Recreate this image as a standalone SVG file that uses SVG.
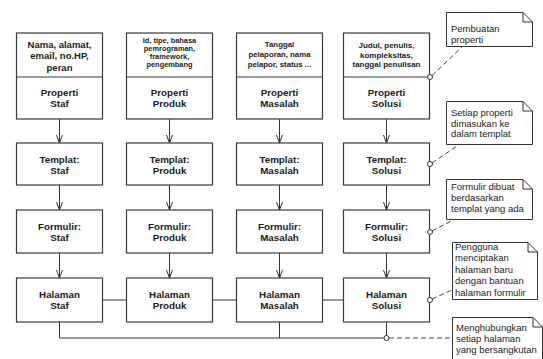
<svg xmlns="http://www.w3.org/2000/svg" width="543" height="359" viewBox="0 0 543 359">
  <defs>
    <marker id="open" viewBox="0 0 9 7" refX="8.5" refY="3.5" markerWidth="9" markerHeight="7" markerUnits="userSpaceOnUse" orient="auto">
      <path d="M0,0.3 L8.5,3.5 L0,6.7" fill="none" stroke="#333" stroke-width="1"/>
    </marker>
  </defs>
  <style>
    .box { fill: #fff; stroke: #3a3a3a; stroke-width: 1.2; }
    .lbl { font-family: "Liberation Sans", Arial, sans-serif; font-weight: bold; font-size: 9.8px; fill: #1a1a1a; text-anchor: middle; }
    .attr { font-family: "Liberation Sans", Arial, sans-serif; font-weight: bold; fill: #1a1a1a; text-anchor: middle; }
    .flow { stroke: #333; stroke-width: 1; fill: none; marker-end: url(#open); }
    .link { stroke: #333; stroke-width: 1; fill: none; }
    .note { fill: #fff; stroke: #333; stroke-width: 1; }
    .fold { fill: none; stroke: #333; stroke-width: 1; }
    .ntxt { font-family: "Liberation Sans", Arial, sans-serif; font-size: 9.5px; fill: #222; }
    .anchor { stroke: #444; stroke-width: 1; fill: none; stroke-dasharray: 5 3; }
    .dot { fill: #fff; stroke: #333; stroke-width: 1; }
  </style>

  <rect width="543" height="359" fill="#fff"/>

  <!-- connectors -->
  <g id="connectors">
    <!-- property -> template -->
    <line class="flow" x1="59.5" y1="119" x2="59.5" y2="143"/>
    <line class="flow" x1="169.5" y1="119" x2="169.5" y2="143"/>
    <line class="flow" x1="279.5" y1="119" x2="279.5" y2="143"/>
    <line class="flow" x1="386.5" y1="119" x2="386.5" y2="143"/>
    <!-- template -> form -->
    <line class="flow" x1="59.5" y1="185" x2="59.5" y2="210"/>
    <line class="flow" x1="169.5" y1="185" x2="169.5" y2="210"/>
    <line class="flow" x1="279.5" y1="185" x2="279.5" y2="210"/>
    <line class="flow" x1="386.5" y1="185" x2="386.5" y2="210"/>
    <!-- form -> page -->
    <line class="flow" x1="59.5" y1="253" x2="59.5" y2="278"/>
    <line class="flow" x1="169.5" y1="253" x2="169.5" y2="278"/>
    <line class="flow" x1="279.5" y1="253" x2="279.5" y2="278"/>
    <line class="flow" x1="386.5" y1="253" x2="386.5" y2="278"/>
    <!-- page links -->
    <line class="link" x1="102.5" y1="300" x2="126.5" y2="300"/>
    <line class="link" x1="212.5" y1="300" x2="236.5" y2="300"/>
    <line class="link" x1="322.5" y1="300" x2="343.5" y2="300"/>
    <polyline class="link" points="59.5,322 59.5,338 386.5,338 386.5,322"/>
    <line class="link" x1="279.5" y1="322" x2="279.5" y2="338"/>
    <!-- note anchors -->
    <line class="anchor" x1="432" y1="75.5" x2="463" y2="46"/>
    <line class="anchor" x1="432" y1="163" x2="460" y2="144"/>
    <line class="anchor" x1="432" y1="231" x2="455" y2="219"/>
    <line class="anchor" x1="432" y1="299" x2="452" y2="290"/>
    <line class="anchor" x1="389" y1="338" x2="452" y2="338"/>
  </g>

  <!-- column: Staf -->
  <g id="properti-staf">
    <rect class="box" x="16.5" y="33" width="86" height="86"/>
    <line class="box" x1="16.5" y1="77" x2="102.5" y2="77"/>
    <text class="attr" font-size="9.5" x="59.5" y="47.5">Nama, alamat,</text>
    <text class="attr" font-size="9.5" x="59.5" y="59">email, no.HP,</text>
    <text class="attr" font-size="9.5" x="59.5" y="70.5">peran</text>
    <text class="lbl" x="59.5" y="95.5">Properti</text>
    <text class="lbl" x="59.5" y="107">Staf</text>
  </g>
  <g id="templat-staf">
    <rect class="box" x="16.5" y="143" width="86" height="42"/>
    <text class="lbl" x="59.5" y="162.5">Templat:</text>
    <text class="lbl" x="59.5" y="173.5">Staf</text>
  </g>
  <g id="formulir-staf">
    <rect class="box" x="16.5" y="210" width="86" height="43"/>
    <text class="lbl" x="59.5" y="229.5">Formulir:</text>
    <text class="lbl" x="59.5" y="240.5">Staf</text>
  </g>
  <g id="halaman-staf">
    <rect class="box" x="16.5" y="278" width="86" height="44"/>
    <text class="lbl" x="59.5" y="297.5">Halaman</text>
    <text class="lbl" x="59.5" y="308.5">Staf</text>
  </g>

  <!-- column: Produk -->
  <g id="properti-produk">
    <rect class="box" x="126.5" y="33" width="86" height="86"/>
    <line class="box" x1="126.5" y1="77" x2="212.5" y2="77"/>
    <text class="attr" font-size="7.4" x="169.5" y="42.5">Id, tipe, bahasa</text>
    <text class="attr" font-size="7.4" x="169.5" y="50.6">pemrograman,</text>
    <text class="attr" font-size="7.4" x="169.5" y="58.7">framework,</text>
    <text class="attr" font-size="7.4" x="169.5" y="66.8">pengembang</text>
    <text class="lbl" x="169.5" y="95.5">Properti</text>
    <text class="lbl" x="169.5" y="107">Produk</text>
  </g>
  <g id="templat-produk">
    <rect class="box" x="126.5" y="143" width="86" height="42"/>
    <text class="lbl" x="169.5" y="162.5">Templat:</text>
    <text class="lbl" x="169.5" y="173.5">Produk</text>
  </g>
  <g id="formulir-produk">
    <rect class="box" x="126.5" y="210" width="86" height="43"/>
    <text class="lbl" x="169.5" y="229.5">Formulir:</text>
    <text class="lbl" x="169.5" y="240.5">Produk</text>
  </g>
  <g id="halaman-produk">
    <rect class="box" x="126.5" y="278" width="86" height="44"/>
    <text class="lbl" x="169.5" y="297.5">Halaman</text>
    <text class="lbl" x="169.5" y="308.5">Produk</text>
  </g>

  <!-- column: Masalah -->
  <g id="properti-masalah">
    <rect class="box" x="236.5" y="33" width="86" height="86"/>
    <line class="box" x1="236.5" y1="77" x2="322.5" y2="77"/>
    <text class="attr" font-size="7.8" x="279.5" y="47">Tanggal</text>
    <text class="attr" font-size="7.8" x="279.5" y="57.3">pelaporan, nama</text>
    <text class="attr" font-size="7.8" x="279.5" y="67">pelapor, status ...</text>
    <text class="lbl" x="279.5" y="95.5">Properti</text>
    <text class="lbl" x="279.5" y="107">Masalah</text>
  </g>
  <g id="templat-masalah">
    <rect class="box" x="236.5" y="143" width="86" height="42"/>
    <text class="lbl" x="279.5" y="162.5">Templat:</text>
    <text class="lbl" x="279.5" y="173.5">Masalah</text>
  </g>
  <g id="formulir-masalah">
    <rect class="box" x="236.5" y="210" width="86" height="43"/>
    <text class="lbl" x="279.5" y="229.5">Formulir:</text>
    <text class="lbl" x="279.5" y="240.5">Masalah</text>
  </g>
  <g id="halaman-masalah">
    <rect class="box" x="236.5" y="278" width="86" height="44"/>
    <text class="lbl" x="279.5" y="297.5">Halaman</text>
    <text class="lbl" x="279.5" y="308.5">Masalah</text>
  </g>

  <!-- column: Solusi -->
  <g id="properti-solusi">
    <rect class="box" x="343.5" y="33" width="86" height="86"/>
    <line class="box" x1="343.5" y1="77" x2="429.5" y2="77"/>
    <text class="attr" font-size="8" x="386.5" y="48">Judul, penulis,</text>
    <text class="attr" font-size="8" x="386.5" y="57.7">kompleksitas,</text>
    <text class="attr" font-size="8" x="386.5" y="67.2">tanggal penulisan</text>
    <text class="lbl" x="386.5" y="95.5">Properti</text>
    <text class="lbl" x="386.5" y="107">Solusi</text>
  </g>
  <g id="templat-solusi">
    <rect class="box" x="343.5" y="143" width="86" height="42"/>
    <text class="lbl" x="386.5" y="162.5">Templat:</text>
    <text class="lbl" x="386.5" y="173.5">Solusi</text>
  </g>
  <g id="formulir-solusi">
    <rect class="box" x="343.5" y="210" width="86" height="43"/>
    <text class="lbl" x="386.5" y="229.5">Formulir:</text>
    <text class="lbl" x="386.5" y="240.5">Solusi</text>
  </g>
  <g id="halaman-solusi">
    <rect class="box" x="343.5" y="278" width="86" height="44"/>
    <text class="lbl" x="386.5" y="297.5">Halaman</text>
    <text class="lbl" x="386.5" y="308.5">Solusi</text>
  </g>

  <!-- anchor dots -->
  <g id="anchor-dots">
    <circle class="dot" cx="430" cy="77" r="2.5"/>
    <circle class="dot" cx="430" cy="164" r="2.5"/>
    <circle class="dot" cx="430" cy="232" r="2.5"/>
    <circle class="dot" cx="430" cy="300" r="2.5"/>
    <circle class="dot" cx="386.5" cy="338" r="2.5"/>
  </g>

  <!-- notes -->
  <g id="note-properti">
    <path class="note" d="M446.5,12.5 H523 L532.5,22 V46.5 H446.5 Z"/>
    <path class="fold" d="M523,12.5 V22 H532.5"/>
    <text class="ntxt" x="451" y="31.5">Pembuatan</text>
    <text class="ntxt" x="451" y="43">properti</text>
  </g>
  <g id="note-templat">
    <path class="note" d="M446.5,101.5 H523 L532.5,111 V144.5 H446.5 Z"/>
    <path class="fold" d="M523,101.5 V111 H532.5"/>
    <text class="ntxt" x="451" y="116">Setiap properti</text>
    <text class="ntxt" x="451" y="126.5">dimasukan ke</text>
    <text class="ntxt" x="451" y="137">dalam templat</text>
  </g>
  <g id="note-formulir">
    <path class="note" d="M446.5,179.5 H523 L532.5,189 V219.5 H446.5 Z"/>
    <path class="fold" d="M523,179.5 V189 H532.5"/>
    <text class="ntxt" x="451" y="190">Formulir dibuat</text>
    <text class="ntxt" x="451" y="201">berdasarkan</text>
    <text class="ntxt" x="451" y="212.3">templat yang ada</text>
  </g>
  <g id="note-halaman">
    <path class="note" d="M452.5,242.5 H528 L537.5,252 V299.5 H452.5 Z"/>
    <path class="fold" d="M528,242.5 V252 H537.5"/>
    <text class="ntxt" x="455" y="250">Pengguna</text>
    <text class="ntxt" x="455" y="261.4">menciptakan</text>
    <text class="ntxt" x="455" y="272.8">halaman baru</text>
    <text class="ntxt" x="455" y="284.2">dengan bantuan</text>
    <text class="ntxt" x="455" y="295.6">halaman formulir</text>
  </g>
  <g id="note-hubungan">
    <path class="note" d="M452.5,317.5 H533 L542.5,327 V362 H452.5 Z"/>
    <path class="fold" d="M533,317.5 V327 H542.5"/>
    <text class="ntxt" x="456" y="330.5">Menghubungkan</text>
    <text class="ntxt" x="456" y="341.5">setiap halaman</text>
    <text class="ntxt" x="456" y="352.5">yang bersangkutan</text>
  </g>
</svg>
